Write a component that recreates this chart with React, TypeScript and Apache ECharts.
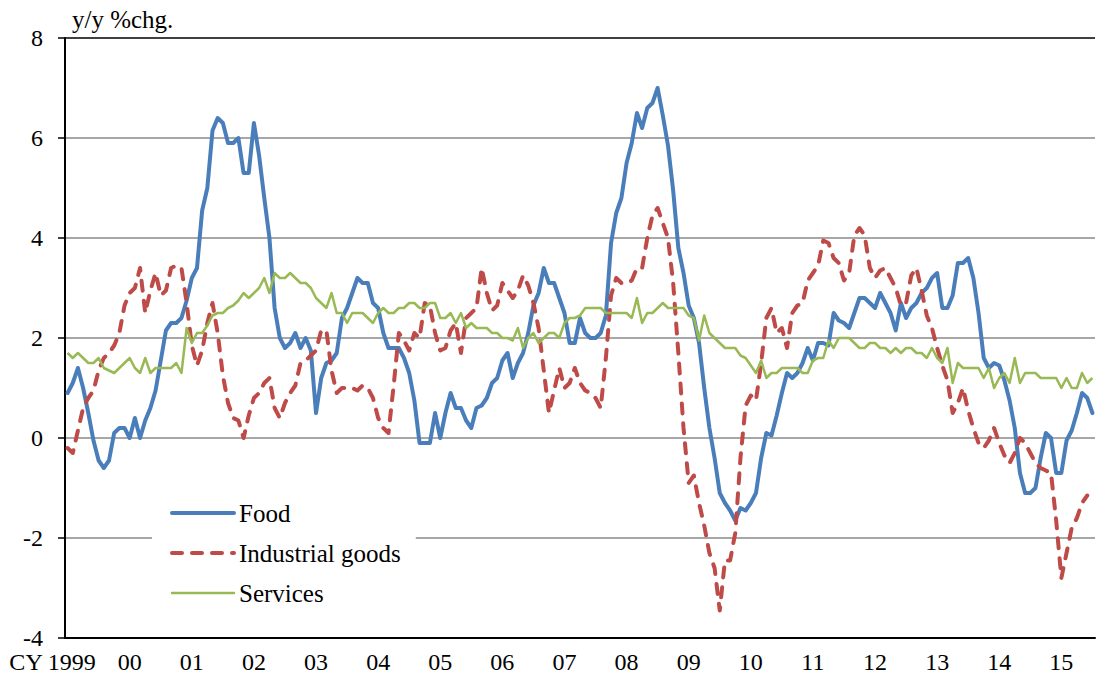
import React, { useEffect, useRef } from 'react';
import * as echarts from 'echarts';

const FONT = "'Liberation Serif', 'Times New Roman', serif";

// Monthly categories: Jan 1999 .. Jul 2015
const START_YEAR = 1999;
const N_MONTHS = 199;
const months: string[] = Array.from(
  { length: N_MONTHS },
  (_, i) => `${START_YEAR + Math.floor(i / 12)}-${String((i % 12) + 1).padStart(2, '0')}`
);

const yearLabels = ['CY 1999', '00', '01', '02', '03', '04', '05', '06', '07', '08', '09', '10', '11', '12', '13', '14', '15'];

const seriesNames = ['Food', 'Industrial goods', 'Services'];

// y/y % change, monthly
const food = [
  0.9, 1.1, 1.4, 1.0, 0.5, -0.05, -0.45, -0.6, -0.45, 0.1, 0.2, 0.2,
  0.0, 0.4, 0.0, 0.35, 0.6, 0.95, 1.55, 2.15, 2.3, 2.3, 2.4, 2.75,
  3.2, 3.4, 4.55, 5.0, 6.15, 6.4, 6.3, 5.9, 5.9, 6.0, 5.3, 5.3,
  6.3, 5.65, 4.8, 4.0, 2.6, 2.0, 1.8, 1.9, 2.1, 1.8, 2.0, 1.75,
  0.5, 1.2, 1.5, 1.55, 1.7, 2.4, 2.6, 2.9, 3.2, 3.1, 3.1, 2.7,
  2.6, 2.1, 1.8, 1.8, 1.8, 1.6, 1.3, 0.75, -0.1, -0.1, -0.1, 0.5,
  0.0, 0.5, 0.9, 0.6, 0.6, 0.35, 0.2, 0.6, 0.65, 0.8, 1.1, 1.2,
  1.55, 1.7, 1.2, 1.5, 1.7, 2.1, 2.65, 2.9, 3.4, 3.1, 3.1, 2.8,
  2.5, 1.9, 1.9, 2.4, 2.1, 2.0, 2.0, 2.1, 2.45, 3.9, 4.5, 4.8,
  5.5, 5.9, 6.5, 6.2, 6.6, 6.7, 7.0, 6.45, 5.85, 4.95, 3.8, 3.3,
  2.65, 2.4, 1.9, 1.0, 0.2, -0.4, -1.1, -1.3, -1.45, -1.65, -1.4, -1.45,
  -1.3, -1.1, -0.4, 0.1, 0.05, 0.45, 0.9, 1.3, 1.2, 1.3, 1.5, 1.8,
  1.55, 1.9, 1.9, 1.85, 2.5, 2.35, 2.3, 2.2, 2.5, 2.8, 2.8, 2.7,
  2.6, 2.9, 2.7, 2.5, 2.15, 2.7, 2.4, 2.6, 2.7, 2.9, 3.0, 3.2,
  3.3, 2.6, 2.6, 2.85, 3.5, 3.5, 3.6, 3.2, 2.5, 1.6, 1.4, 1.5,
  1.45, 1.15, 0.75, 0.2, -0.7, -1.1, -1.1, -1.0, -0.4, 0.1, 0.0, -0.7,
  -0.7, -0.05, 0.15, 0.5, 0.9, 0.8, 0.5,
];

const industrialGoods = [
  -0.2, -0.3, 0.15, 0.6, 0.8, 0.95, 1.35, 1.6, 1.7, 1.85, 2.1, 2.65,
  2.9, 3.0, 3.4, 2.5, 2.95, 3.3, 2.85, 2.95, 3.4, 3.45, 3.4, 2.7,
  1.85, 1.45, 1.75, 2.3, 2.7, 2.1, 1.25, 0.7, 0.4, 0.35, 0.0, 0.45,
  0.8, 0.9, 1.1, 1.2, 0.6, 0.4, 0.7, 0.9, 1.05, 1.5, 1.55, 1.65,
  1.75, 2.15, 2.15, 1.35, 0.9, 1.0, 1.0, 1.0, 0.95, 1.05, 1.0, 0.8,
  0.4, 0.2, 0.1, 1.05, 2.1, 1.95, 1.75, 2.1, 2.0, 2.7, 2.65, 2.1,
  1.75, 1.8, 2.15, 2.3, 1.7, 2.4, 2.5, 2.6, 3.4, 2.9, 2.55, 2.65,
  3.1, 2.95, 2.8, 2.95, 3.25, 3.05, 2.7, 2.2, 1.35, 0.5, 0.95, 1.4,
  1.0, 1.1, 1.4, 1.1, 0.95, 0.9, 0.8, 0.6, 1.6, 2.85, 3.2, 3.1,
  3.1, 3.15, 3.4, 3.4, 4.0, 4.45, 4.6, 4.3, 4.0, 3.1, 1.7, 0.2,
  -0.9, -0.75, -1.3, -1.75, -2.3, -2.6, -3.45, -2.45, -2.45, -1.9, -0.4, 0.65,
  0.85, 0.75, 1.5, 2.4, 2.6, 2.1, 2.2, 1.8, 2.5, 2.65, 2.7, 3.15,
  3.3, 3.45, 3.95, 3.9, 3.6, 3.5, 3.15, 3.3, 4.05, 4.2, 4.05, 3.4,
  3.2, 3.35, 3.4, 3.2, 3.0, 2.65, 2.7, 3.25, 3.4, 2.95, 2.45, 2.2,
  1.8, 1.45, 1.15, 0.5, 0.7, 1.0, 0.55, 0.2, -0.1, -0.2, -0.05, 0.2,
  -0.1, -0.35, -0.5, -0.3, 0.0, -0.1, -0.3, -0.5, -0.6, -0.65, -0.7, -1.65,
  -2.8, -2.3, -1.8, -1.6, -1.3, -1.15,
];

const services = [
  1.7, 1.6, 1.7, 1.6, 1.5, 1.5, 1.6, 1.4, 1.35, 1.3, 1.4, 1.5,
  1.6, 1.4, 1.3, 1.6, 1.3, 1.4, 1.4, 1.4, 1.4, 1.5, 1.3, 2.2,
  1.9, 2.1, 2.1, 2.25, 2.45, 2.5, 2.5, 2.6, 2.65, 2.75, 2.9, 2.8,
  2.9, 3.0, 3.2, 2.9, 3.3, 3.2, 3.2, 3.3, 3.2, 3.1, 3.1, 3.0,
  2.8, 2.7, 2.6, 2.9, 2.5, 2.5, 2.3, 2.5, 2.5, 2.5, 2.4, 2.3,
  2.5, 2.6, 2.5, 2.5, 2.6, 2.6, 2.7, 2.7, 2.6, 2.6, 2.7, 2.7,
  2.4, 2.4, 2.5, 2.3, 2.5, 2.2, 2.3, 2.2, 2.2, 2.2, 2.1, 2.1,
  2.0, 2.0, 1.95, 2.2, 1.8, 2.0, 2.1, 1.9, 2.0, 2.1, 2.1, 2.0,
  2.3, 2.4, 2.4, 2.45, 2.6, 2.6, 2.6, 2.6, 2.5, 2.5, 2.5, 2.5,
  2.5, 2.4, 2.8, 2.3, 2.5, 2.5, 2.6, 2.7, 2.6, 2.6, 2.6, 2.6,
  2.45, 2.4, 1.95, 2.45, 2.1, 2.0, 1.9, 1.8, 1.8, 1.8, 1.65, 1.6,
  1.45, 1.3, 1.55, 1.2, 1.3, 1.3, 1.4, 1.4, 1.4, 1.4, 1.3, 1.3,
  1.55, 1.6, 1.6, 1.95, 1.8, 2.0, 2.0, 2.0, 1.9, 1.8, 1.8, 1.9,
  1.9, 1.8, 1.8, 1.7, 1.8, 1.7, 1.8, 1.8, 1.7, 1.7, 1.6, 1.8,
  1.6, 1.5, 1.8, 1.1, 1.5, 1.4, 1.4, 1.4, 1.4, 1.2, 1.4, 1.0,
  1.2, 1.3, 1.1, 1.6, 1.1, 1.3, 1.3, 1.3, 1.2, 1.2, 1.2, 1.2,
  1.0, 1.2, 1.0, 1.0, 1.3, 1.1, 1.2,
];

const yTicks = { min: -4, max: 8, interval: 2 };

export default function App() {
  const ref = useRef<HTMLDivElement>(null);

  useEffect(() => {
    if (!ref.current) return;
    const chart = echarts.init(ref.current, null, { renderer: 'svg' });
    const gridGrey = '#8a8a8a';
    chart.setOption({
      animation: false,
      backgroundColor: '#fff',
      textStyle: { fontFamily: FONT },
      grid: { left: 65, right: 1, top: 38, bottom: 46, containLabel: false },
      legend: {
        data: seriesNames,
        orient: 'vertical',
        left: 152,
        top: 490,
        padding: [8, 15, 8, 18],
        backgroundColor: '#fff',
        itemWidth: 62,
        itemHeight: 14,
        itemGap: 10,
        itemStyle: { opacity: 0 },
        lineStyle: { width: 'inherit', type: 'inherit', cap: 'round' },
        textStyle: { fontSize: 25, lineHeight: 30, fontFamily: FONT, color: '#000' },
      },
      xAxis: {
        type: 'category',
        data: months,
        boundaryGap: true,
        axisLine: { onZero: false, lineStyle: { color: '#000', width: 2 } },
        axisTick: {
          interval: (i: number) => i % 12 === 0,
          length: 7,
          lineStyle: { color: '#000', width: 1.5 },
        },
        axisLabel: {
          interval: (i: number) => i % 12 === 0,
          formatter: (_v: string, i: number) =>
            i === 0 ? `{first|${yearLabels[0]}}` : yearLabels[Math.round(i / 12)],
          color: '#000',
          fontSize: 24,
          fontFamily: FONT,
          margin: 12,
          rich: {
            first: { padding: [0, 30, 0, 0], fontSize: 24, fontFamily: FONT, color: '#000' },
          },
        },
        splitLine: { show: false },
      },
      yAxis: {
        type: 'value',
        min: yTicks.min,
        max: yTicks.max,
        interval: yTicks.interval,
        name: 'y/y %chg.',
        nameLocation: 'end',
        nameGap: 6,
        nameTextStyle: {
          align: 'left',
          verticalAlign: 'bottom',
          fontSize: 25,
          fontFamily: FONT,
          color: '#000',
          padding: [0, 0, 0, 7],
        },
        axisLine: { show: true, lineStyle: { color: '#000', width: 2 } },
        axisTick: { show: true, length: 7, lineStyle: { color: '#000', width: 1.5 } },
        axisLabel: { color: '#000', fontSize: 24, fontFamily: FONT, margin: 22 },
        splitLine: {
          show: true,
          lineStyle: {
            color: ['#000', gridGrey, gridGrey, gridGrey, gridGrey, gridGrey, '#000'],
            width: 1.6,
          },
        },
      },
      series: [
        {
          name: seriesNames[0],
          type: 'line',
          data: food,
          symbol: 'none',
          itemStyle: { color: '#4A7EBB' },
          lineStyle: { color: '#4A7EBB', width: 4, join: 'round', cap: 'round' },
        },
        {
          name: seriesNames[1],
          type: 'line',
          data: industrialGoods,
          symbol: 'none',
          itemStyle: { color: '#BE4B48' },
          lineStyle: { color: '#BE4B48', width: 4, type: [10, 10], cap: 'round', join: 'round' },
        },
        {
          name: seriesNames[2],
          type: 'line',
          data: services,
          symbol: 'none',
          itemStyle: { color: '#98B954' },
          lineStyle: { color: '#98B954', width: 2.5, join: 'round' },
        },
      ],
    });
    return () => chart.dispose();
  }, []);

  return (
    <div
      ref={ref}
      style={{ position: 'fixed', left: 0, top: 0, width: 1096, height: 684, background: '#fff' }}
    />
  );
}
